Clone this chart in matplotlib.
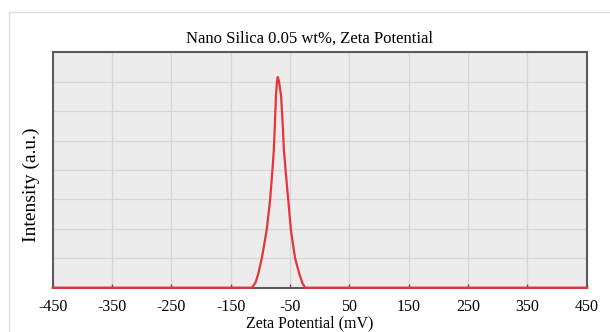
import matplotlib
matplotlib.use('Agg')
import matplotlib.pyplot as plt
from matplotlib.lines import Line2D

# zeta potential distribution
zeta_mv = [-450, -114.4, -108, -103.3, -97.6, -93.2, -89.1, -83.6, -79.7, -77.3, -75.5, -73.5, -72,
           -70.6, -68.5, -65, -62.5, -60.3, -57.5, -53, -48.7, -45.3, -41.4, -34.7, -29, -24.5, 450]
intensity = [0, 0, 0.18, 0.49, 1.0, 1.5, 2.0, 2.98, 3.99, 4.68, 5.6, 6.6, 7.0,
             7.16, 7.0, 6.5, 5.6, 4.68, 3.99, 2.98, 2.0, 1.5, 1.0, 0.49, 0.15, 0, 0]

x_ticks = [-450, -350, -250, -150, -50, 50, 150, 250, 350, 450]

plt.rcParams['font.family'] = ['Liberation Serif', 'DejaVu Serif']

fig = plt.figure(figsize=(6.1, 3.32), dpi=100)
fig.patch.set_facecolor('white')

# faint frame around the chart
fig.add_artist(Line2D([9/610, 1.0], [1 - 12/332, 1 - 12/332], transform=fig.transFigure, color='#dddddd', lw=1))
fig.add_artist(Line2D([9/610, 9/610], [0, 1 - 12/332], transform=fig.transFigure, color='#dddddd', lw=1))

ax = fig.add_axes([52.7/610, (332-287.7)/332, 534/610, 235.4/332])
ax.set_facecolor('#ececec')
ax.plot(zeta_mv, intensity, color='#e8333a', lw=1.6, zorder=3, clip_on=False)

ax.set_xlim(-450, 450)
ax.set_ylim(0, 8)
ax.set_xticks(x_ticks)
ax.set_xticklabels([str(t) for t in x_ticks], fontsize=11.5)
ax.set_yticks(range(0, 9))
ax.set_yticklabels([])
ax.tick_params(axis='y', length=0)
ax.tick_params(axis='x', direction='in', length=3, width=1, color='#555555', pad=8)
ax.grid(True, color='#d6d6d6', lw=0.9)
ax.set_axisbelow(True)
for s in ax.spines.values():
    s.set_color('#5a5a5a')
    s.set_linewidth(1.5)

fig.text(310/610, 1 - 38.5/332, 'Nano Silica 0.05 wt%, Zeta Potential', ha='center', va='center', fontsize=12)
fig.text(31.5/610, 1 - 185/332, 'Intensity (a.u.)', ha='center', va='center', rotation=90, fontsize=14)
fig.text(310/610, 0.5/332, 'Zeta Potential (mV)', ha='center', va='bottom', fontsize=11.5)

fig.savefig('out.png', dpi=100)
